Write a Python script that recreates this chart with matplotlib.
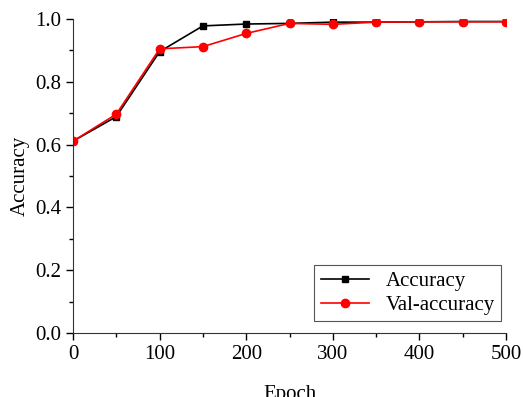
import matplotlib.pyplot as plt
from matplotlib.ticker import MultipleLocator

epochs = [0, 50, 100, 150, 200, 250, 300, 350, 400, 450, 500]
accuracy = [0.611, 0.689, 0.896, 0.978, 0.984, 0.986, 0.990, 0.990, 0.991, 0.992, 0.992]
val_accuracy = [0.611, 0.697, 0.905, 0.912, 0.954, 0.986, 0.983, 0.990, 0.991, 0.991, 0.991]

plt.rcParams['font.family'] = ['Liberation Serif', 'DejaVu Serif']
plt.rcParams['font.size'] = 11

fig = plt.figure(figsize=(5.23, 3.97), dpi=100)
ax = fig.add_axes([73 / 523, 1 - 333 / 397, (506 - 73) / 523, (333 - 19) / 397])

ax.plot(epochs, accuracy, color='black', marker='s', markersize=5, linewidth=1.2, label='Accuracy')
ax.plot(epochs, val_accuracy, color='red', marker='o', markersize=6, linewidth=1.2, label='Val-accuracy')

ax.set_xlim(0, 500)
ax.set_ylim(0, 1.0)
ax.xaxis.set_major_locator(MultipleLocator(100))
ax.xaxis.set_minor_locator(MultipleLocator(50))
ax.yaxis.set_major_locator(MultipleLocator(0.2))
ax.yaxis.set_minor_locator(MultipleLocator(0.1))
ax.yaxis.set_major_formatter(plt.FormatStrFormatter('%.1f'))
ax.tick_params(which='major', direction='out', length=5, width=1)
ax.tick_params(which='minor', direction='out', length=3, width=1)
ax.tick_params(labelsize=15)

for s in ['top', 'right']:
    ax.spines[s].set_visible(False)
for s in ['left', 'bottom']:
    ax.spines[s].set_color('#333333')

# label sits low and is clipped at the bottom edge, as in the reference
ax.set_xlabel('Epoch', fontsize=15, labelpad=15)
ax.set_ylabel('Accuracy', fontsize=15, labelpad=4)

leg = ax.legend(loc='lower right', fontsize=15, fancybox=False, edgecolor='#555555',
                framealpha=1, borderpad=0.3, handlelength=2.3, labelspacing=0.2,
                borderaxespad=0, bbox_to_anchor=(0.988, 0.038))
leg.get_frame().set_linewidth(0.8)

fig.savefig('out.png', dpi=100)
